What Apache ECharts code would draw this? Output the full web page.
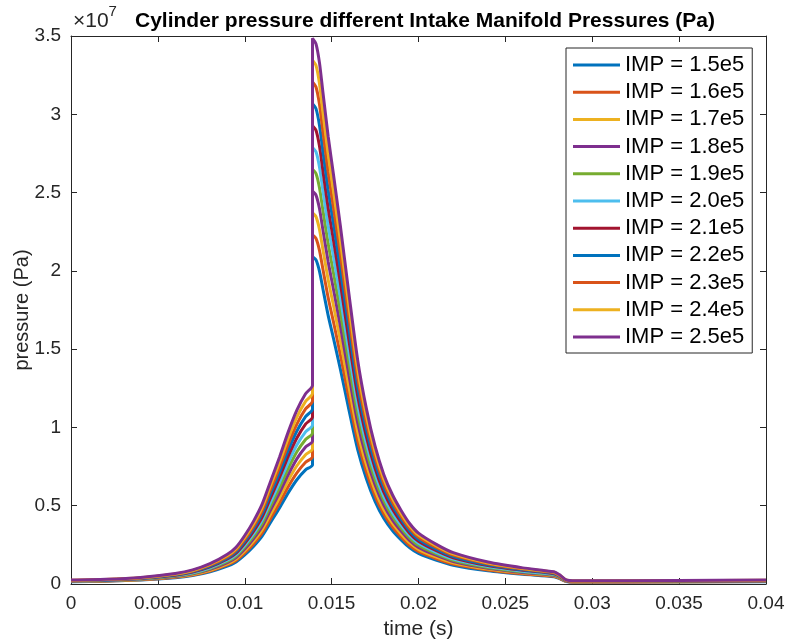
<!DOCTYPE html>
<html>
<head>
<meta charset="utf-8">
<script src="https://cdn.jsdelivr.net/npm/echarts@6/dist/echarts.min.js"></script>
<style>
  html, body { margin: 0; padding: 0; background: #fff; }
  #main { width: 787px; height: 641px; }
</style>
</head>
<body>
<div id="main"></div>
<script>
// time samples (s) - the jump at 0.0139 appears twice (before / after combustion)
var time = [0, 0.002, 0.004, 0.006, 0.007, 0.008, 0.009, 0.0095, 0.010, 0.0105, 0.011, 0.0115, 0.012, 0.0125, 0.013, 0.0135, 0.0139,
  0.0139, 0.0141, 0.0143, 0.0145, 0.0148, 0.0151, 0.0155, 0.016, 0.0165, 0.017, 0.0175, 0.018, 0.0185, 0.019, 0.0195, 0.020,
  0.021, 0.022, 0.024, 0.026, 0.0278, 0.0281, 0.0285, 0.029, 0.035, 0.040];

// cylinder pressure, in units of 1e7 Pa
var imp15 = [0.015, 0.018, 0.025, 0.040, 0.054, 0.078, 0.114, 0.141, 0.186, 0.240, 0.306, 0.396, 0.486, 0.582, 0.666, 0.729, 0.762,
  2.091, 2.070, 1.998, 1.884, 1.716, 1.572, 1.374, 1.110, 0.858, 0.672, 0.528, 0.420, 0.342, 0.282, 0.231, 0.195,
  0.153, 0.120, 0.084, 0.062, 0.047, 0.036, 0.016, 0.012, 0.013, 0.015];
var imp16 = [0.016, 0.019, 0.027, 0.043, 0.058, 0.083, 0.122, 0.150, 0.198, 0.256, 0.326, 0.422, 0.518, 0.621, 0.710, 0.778, 0.813,
  2.230, 2.208, 2.131, 2.010, 1.830, 1.677, 1.466, 1.184, 0.915, 0.717, 0.563, 0.448, 0.365, 0.301, 0.246, 0.208,
  0.163, 0.128, 0.090, 0.066, 0.050, 0.038, 0.017, 0.013, 0.014, 0.016];
var imp17 = [0.017, 0.020, 0.029, 0.046, 0.061, 0.088, 0.129, 0.160, 0.211, 0.272, 0.347, 0.449, 0.551, 0.660, 0.755, 0.826, 0.864,
  2.370, 2.346, 2.264, 2.135, 1.945, 1.782, 1.557, 1.258, 0.972, 0.762, 0.598, 0.476, 0.388, 0.320, 0.262, 0.221,
  0.173, 0.136, 0.095, 0.070, 0.053, 0.041, 0.018, 0.014, 0.015, 0.017];
var imp18 = [0.018, 0.022, 0.030, 0.048, 0.065, 0.094, 0.137, 0.169, 0.223, 0.288, 0.367, 0.475, 0.583, 0.698, 0.799, 0.875, 0.914,
  2.509, 2.484, 2.398, 2.261, 2.059, 1.886, 1.649, 1.332, 1.030, 0.806, 0.634, 0.504, 0.410, 0.338, 0.277, 0.234,
  0.184, 0.144, 0.101, 0.074, 0.056, 0.043, 0.019, 0.014, 0.016, 0.018];
var imp19 = [0.019, 0.023, 0.032, 0.051, 0.068, 0.099, 0.144, 0.179, 0.236, 0.304, 0.388, 0.502, 0.616, 0.737, 0.844, 0.923, 0.965,
  2.649, 2.622, 2.531, 2.386, 2.174, 1.991, 1.740, 1.406, 1.087, 0.851, 0.669, 0.532, 0.433, 0.357, 0.293, 0.247,
  0.194, 0.152, 0.106, 0.078, 0.059, 0.046, 0.020, 0.015, 0.017, 0.019];
var imp20 = [0.020, 0.024, 0.034, 0.054, 0.072, 0.104, 0.152, 0.188, 0.248, 0.320, 0.408, 0.528, 0.648, 0.776, 0.888, 0.972, 1.016,
  2.788, 2.760, 2.664, 2.512, 2.288, 2.096, 1.832, 1.480, 1.144, 0.896, 0.704, 0.560, 0.456, 0.376, 0.308, 0.260,
  0.204, 0.160, 0.112, 0.082, 0.062, 0.048, 0.021, 0.016, 0.018, 0.020];
var imp21 = [0.021, 0.025, 0.035, 0.056, 0.076, 0.109, 0.160, 0.197, 0.260, 0.336, 0.428, 0.554, 0.680, 0.815, 0.932, 1.021, 1.067,
  2.927, 2.898, 2.797, 2.638, 2.402, 2.201, 1.924, 1.554, 1.201, 0.941, 0.739, 0.588, 0.479, 0.395, 0.323, 0.273,
  0.214, 0.168, 0.118, 0.087, 0.066, 0.050, 0.022, 0.017, 0.018, 0.021];
var imp22 = [0.022, 0.026, 0.037, 0.059, 0.079, 0.114, 0.167, 0.207, 0.273, 0.352, 0.449, 0.581, 0.713, 0.854, 0.977, 1.069, 1.118,
  3.067, 3.036, 2.930, 2.763, 2.517, 2.306, 2.015, 1.628, 1.258, 0.986, 0.774, 0.616, 0.502, 0.414, 0.339, 0.286,
  0.224, 0.176, 0.123, 0.091, 0.069, 0.053, 0.023, 0.018, 0.019, 0.022];
var imp23 = [0.023, 0.028, 0.039, 0.062, 0.083, 0.120, 0.175, 0.216, 0.285, 0.368, 0.469, 0.607, 0.745, 0.892, 1.021, 1.118, 1.168,
  3.206, 3.174, 3.064, 2.889, 2.631, 2.410, 2.107, 1.702, 1.316, 1.030, 0.810, 0.644, 0.524, 0.432, 0.354, 0.299,
  0.235, 0.184, 0.129, 0.095, 0.072, 0.055, 0.024, 0.018, 0.020, 0.023];
var imp24 = [0.024, 0.029, 0.040, 0.064, 0.086, 0.125, 0.182, 0.226, 0.298, 0.384, 0.490, 0.634, 0.778, 0.931, 1.066, 1.166, 1.219,
  3.346, 3.312, 3.197, 3.014, 2.746, 2.515, 2.198, 1.776, 1.373, 1.075, 0.845, 0.672, 0.547, 0.451, 0.370, 0.312,
  0.245, 0.192, 0.134, 0.099, 0.075, 0.058, 0.025, 0.019, 0.021, 0.024];
var imp25 = [0.025, 0.030, 0.042, 0.067, 0.090, 0.130, 0.190, 0.235, 0.310, 0.400, 0.510, 0.660, 0.810, 0.970, 1.110, 1.215, 1.270,
  3.485, 3.450, 3.330, 3.140, 2.860, 2.620, 2.290, 1.850, 1.430, 1.120, 0.880, 0.700, 0.570, 0.470, 0.385, 0.325,
  0.255, 0.200, 0.140, 0.103, 0.078, 0.060, 0.026, 0.020, 0.022, 0.025];

var names = ['IMP = 1.5e5', 'IMP = 1.6e5', 'IMP = 1.7e5', 'IMP = 1.8e5', 'IMP = 1.9e5', 'IMP = 2.0e5',
  'IMP = 2.1e5', 'IMP = 2.2e5', 'IMP = 2.3e5', 'IMP = 2.4e5', 'IMP = 2.5e5'];
var values = [imp15, imp16, imp17, imp18, imp19, imp20, imp21, imp22, imp23, imp24, imp25];
var colors = ['#0072BD', '#D95319', '#EDB120', '#7E2F8E', '#77AC30', '#4DBEEE', '#A2142F',
  '#0072BD', '#D95319', '#EDB120', '#7E2F8E'];

var axisColor = '#262626';
var font = 'Liberation Sans, Arial, Helvetica, sans-serif';

var chart = echarts.init(document.getElementById('main'));

var series = values.map(function (arr, k) {
  return {
    name: names[k],
    type: 'line',
    showSymbol: false,
    symbol: 'none',
    smooth: 0.25,
    animation: false,
    lineStyle: { width: 3, color: colors[k] },
    itemStyle: { color: colors[k] },
    data: time.map(function (t, i) { return [t, arr[i]]; })
  };
});

var option = {
  animation: false,
  color: colors,
  title: {
    text: 'Cylinder pressure different Intake Manifold Pressures (Pa)',
    left: 420,
    top: 6,
    textAlign: 'center',
    textStyle: { fontFamily: font, fontSize: 21, fontWeight: 'bold', color: '#000' }
  },
  grid: { left: 71, right: 21, top: 36, bottom: 57, containLabel: false, outerBoundsMode: 'none' },
  legend: {
    orient: 'vertical',
    left: 566,
    top: 48,
    padding: [6, 8, 5, 7],
    itemGap: 5.2,
    itemWidth: 47,
    itemHeight: 3,
    icon: 'rect',
    backgroundColor: '#fff',
    borderColor: axisColor,
    borderWidth: 1,
    borderRadius: 0,
    textStyle: { fontFamily: font, fontSize: 22, color: '#000', lineHeight: 22 },
    data: names
  },
  graphic: [{
    type: 'text',
    left: 73,
    top: 4,
    style: {
      text: '{a|×10}{b|7}',
      rich: {
        a: { fontFamily: font, fontSize: 21, fill: axisColor, verticalAlign: 'bottom', padding: [7, 0, 0, 0] },
        b: { fontFamily: font, fontSize: 15, fill: axisColor, verticalAlign: 'top' }
      }
    }
  }],
  xAxis: [{
    type: 'value',
    min: 0,
    max: 0.04,
    interval: 0.005,
    name: 'time (s)',
    nameLocation: 'middle',
    nameGap: 35,
    nameTextStyle: { fontFamily: font, fontSize: 21, color: axisColor },
    axisLine: { show: true, onZero: false, lineStyle: { color: axisColor, width: 1 } },
    axisTick: { show: true, inside: true, length: 6, lineStyle: { color: axisColor } },
    axisLabel: {
      fontFamily: font, fontSize: 19, color: axisColor, margin: 10,
      formatter: function (v) { return String(+v.toFixed(3)); }
    },
    splitLine: { show: false }
  }, {
    type: 'value',
    position: 'top',
    min: 0,
    max: 0.04,
    interval: 0.005,
    axisLine: { show: true, onZero: false, lineStyle: { color: axisColor, width: 1 } },
    axisTick: { show: true, inside: true, length: 6, lineStyle: { color: axisColor } },
    axisLabel: { show: false },
    splitLine: { show: false }
  }],
  yAxis: [{
    type: 'value',
    min: 0,
    max: 3.5,
    interval: 0.5,
    name: 'pressure (Pa)',
    nameLocation: 'middle',
    nameGap: 39,
    nameMoveOverlap: false,
    nameRotate: 90,
    nameTextStyle: { fontFamily: font, fontSize: 20, color: axisColor },
    axisLine: { show: true, onZero: false, lineStyle: { color: axisColor, width: 1 } },
    axisTick: { show: true, inside: true, length: 6, lineStyle: { color: axisColor } },
    axisLabel: { fontFamily: font, fontSize: 19, color: axisColor, margin: 10 },
    splitLine: { show: false }
  }, {
    type: 'value',
    position: 'right',
    min: 0,
    max: 3.5,
    interval: 0.5,
    axisLine: { show: true, onZero: false, lineStyle: { color: axisColor, width: 1 } },
    axisTick: { show: true, inside: true, length: 6, lineStyle: { color: axisColor } },
    axisLabel: { show: false },
    splitLine: { show: false }
  }],
  series: series
};

chart.setOption(option);
</script>
</body>
</html>
